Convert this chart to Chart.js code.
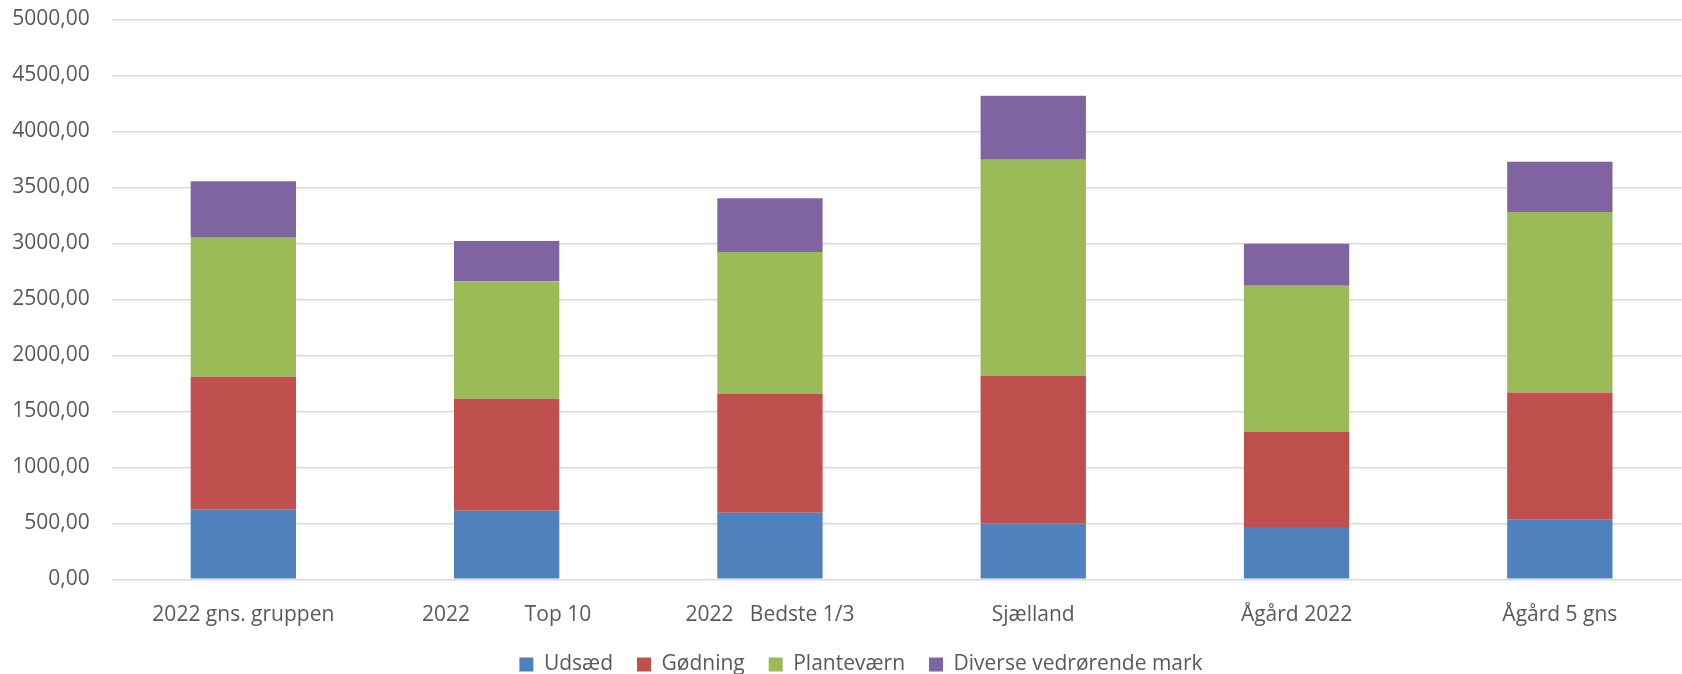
<!DOCTYPE html>
<html>
<head>
<meta charset="utf-8">
<script src="https://cdn.jsdelivr.net/npm/chart.js@4"></script>
<style>
  html, body { margin: 0; padding: 0; background: #fff; overflow: hidden; }
  #wrap { position: relative; width: 1722px; height: 685px; }
</style>
</head>
<body>
<div id="wrap"><canvas id="chart"></canvas></div>
<script>
// values
const categories = ['2022 gns. gruppen', '2022          Top 10', '2022   Bedste 1/3', 'Sjælland', 'Ågård 2022', 'Ågård 5 gns']
const udsaed      = [625, 613, 595, 500, 466, 537]
const goedning    = [1184, 1000, 1062, 1318, 854, 1131]
const plantevaern = [1247, 1048, 1265, 1928, 1301, 1611]
const diverse     = [498, 359, 480, 572, 374, 449]

const yMin = 0
const yMax = 5000
const yStep = 500

const textColor = '#595959'
const gridColor = '#d9d9d9'
const font = { family: '"Open Sans", sans-serif', size: 21 }

const series = [
  { label: 'Udsæd', data: udsaed, color: '#4F81BD' },
  { label: 'Gødning', data: goedning, color: '#C0504D' },
  { label: 'Planteværn', data: plantevaern, color: '#9BBB59' },
  { label: 'Diverse vedrørende mark', data: diverse, color: '#8064A2' },
]

new Chart(document.getElementById('chart'), {
  type: 'bar',
  data: {
    labels: categories,
    datasets: series.map(s => ({
      label: s.label,
      data: s.data,
      backgroundColor: s.color,
      borderWidth: 0,
      categoryPercentage: 1,
      barPercentage: 0.4,
    })),
  },
  options: {
    responsive: true,
    maintainAspectRatio: false,
    animation: false,
    layout: { padding: { left: 10, right: 10, top: 19.3, bottom: 0 } },
    plugins: {
      tooltip: { enabled: false },
      legend: {
        position: 'bottom',
        labels: {
          boxWidth: 14,
          boxHeight: 14,
          padding: 24,
          color: textColor,
          font,
        },
      },
    },
    scales: {
      x: {
        stacked: true,
        grid: { display: false, drawTicks: false },
        border: { display: false },
        ticks: { color: textColor, font, padding: 23, maxRotation: 0, autoSkip: false },
        afterFit: s => { s.height = 50.7 },
      },
      y: {
        stacked: true,
        min: yMin,
        max: yMax,
        // gap between labels and plot comes from an invisible tick mark
        grid: { color: gridColor, lineWidth: 1.5, drawTicks: true, tickLength: 22, tickColor: 'rgba(0,0,0,0)' },
        border: { display: false },
        ticks: {
          stepSize: yStep,
          color: textColor,
          font,
          padding: 0,
          callback: v => v.toFixed(2).replace('.', ','),
        },
        afterFit: s => { s.width = 101.7 },
      },
      // empty spacer on the right: the chart is cropped on that side in the original
      spacer: {
        position: 'right',
        ticks: { display: false },
        grid: { display: false, drawTicks: false },
        border: { display: false },
        afterFit: s => { s.width = 20.5 },
      },
    },
  },
})
</script>
</body>
</html>
